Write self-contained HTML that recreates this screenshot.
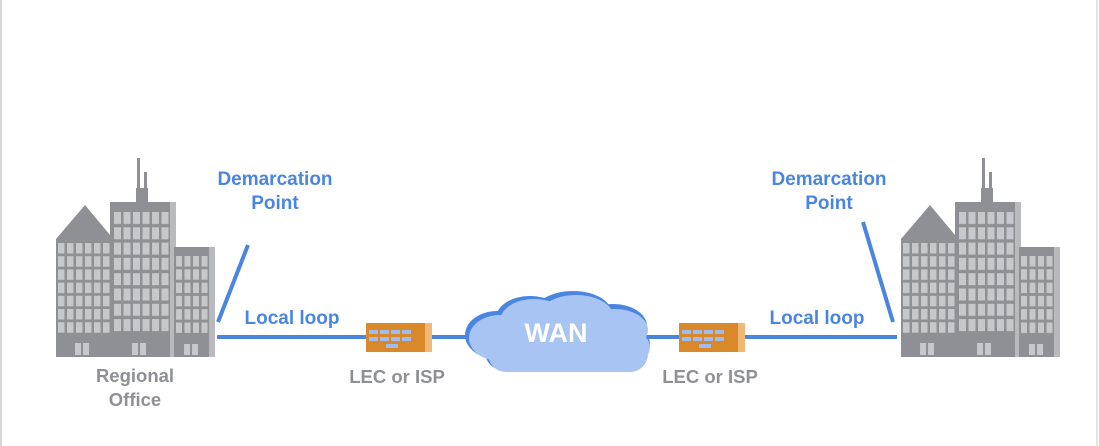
<!DOCTYPE html>
<html><head><meta charset="utf-8"><style>
html,body{margin:0;padding:0;background:#fff;width:1099px;height:446px;overflow:hidden}
.t{position:absolute;font-family:"Liberation Sans",sans-serif;font-weight:bold;font-size:19px;text-align:center;line-height:24px;white-space:nowrap}
.b{color:#4a86e0}.g{color:#8e9096}
svg{position:absolute;left:0;top:0}
</style></head><body>
<svg width="1099" height="446" viewBox="0 0 1099 446" xmlns="http://www.w3.org/2000/svg">
<defs>
<pattern id="w1" x="58" y="243" width="9" height="13.2" patternUnits="userSpaceOnUse"><rect x="0" y="0" width="6.5" height="10.5" fill="#c6c8cc"/></pattern>
<pattern id="w2" x="114" y="212" width="9.5" height="15.3" patternUnits="userSpaceOnUse"><rect x="0" y="0" width="7" height="12" fill="#c6c8cc"/></pattern>
<pattern id="w3" x="176" y="256" width="8.5" height="13.3" patternUnits="userSpaceOnUse"><rect x="0" y="0" width="6" height="10.5" fill="#c6c8cc"/></pattern>
</defs>
<g>
  <rect x="137" y="158" width="3" height="45" fill="#8e9096"/>
  <rect x="144" y="172" width="3" height="31" fill="#8e9096"/>
  <rect x="136" y="188" width="12" height="15" fill="#8e9096"/>
  <polygon points="56,239 85,205 110,235 110,357 56,357" fill="#8e9096"/>
  <rect x="58" y="243" width="52" height="92" fill="url(#w1)"/>
  <rect x="110" y="202" width="66" height="155" fill="#8e9096"/>
  <rect x="170" y="202" width="6" height="155" fill="#b8babd"/>
  <rect x="114" y="212" width="57" height="121" fill="url(#w2)"/>
  <rect x="174" y="247" width="41" height="110" fill="#8e9096"/>
  <rect x="209" y="247" width="6" height="110" fill="#b8babd"/>
  <rect x="176" y="256" width="33" height="79" fill="url(#w3)"/>
  <rect x="75" y="343" width="6" height="12" fill="#c6c8cc"/><rect x="83" y="343" width="6" height="12" fill="#c6c8cc"/>
  <rect x="132" y="343" width="6" height="12" fill="#c6c8cc"/><rect x="140" y="343" width="6" height="12" fill="#c6c8cc"/>
  <rect x="184" y="344" width="6" height="11" fill="#c6c8cc"/><rect x="192" y="344" width="6" height="11" fill="#c6c8cc"/>
</g>
<g transform="translate(845,0)">
  <rect x="137" y="158" width="3" height="45" fill="#8e9096"/>
  <rect x="144" y="172" width="3" height="31" fill="#8e9096"/>
  <rect x="136" y="188" width="12" height="15" fill="#8e9096"/>
  <polygon points="56,239 85,205 110,235 110,357 56,357" fill="#8e9096"/>
  <rect x="58" y="243" width="52" height="92" fill="url(#w1)"/>
  <rect x="110" y="202" width="66" height="155" fill="#8e9096"/>
  <rect x="170" y="202" width="6" height="155" fill="#b8babd"/>
  <rect x="114" y="212" width="57" height="121" fill="url(#w2)"/>
  <rect x="174" y="247" width="41" height="110" fill="#8e9096"/>
  <rect x="209" y="247" width="6" height="110" fill="#b8babd"/>
  <rect x="176" y="256" width="33" height="79" fill="url(#w3)"/>
  <rect x="75" y="343" width="6" height="12" fill="#c6c8cc"/><rect x="83" y="343" width="6" height="12" fill="#c6c8cc"/>
  <rect x="132" y="343" width="6" height="12" fill="#c6c8cc"/><rect x="140" y="343" width="6" height="12" fill="#c6c8cc"/>
  <rect x="184" y="344" width="6" height="11" fill="#c6c8cc"/><rect x="192" y="344" width="6" height="11" fill="#c6c8cc"/>
</g>
<rect x="0" y="0" width="2" height="446" fill="#d6d6d6"/>
<rect x="1096" y="0" width="2" height="446" fill="#e2e2e2"/>
<g stroke="#4a86e0" stroke-width="4" fill="none">
  <line x1="217" y1="337" x2="470" y2="337"/>
  <line x1="645" y1="337" x2="897" y2="337"/>
  <line x1="218" y1="322" x2="248" y2="245"/>
  <line x1="893" y1="322" x2="863" y2="222"/>
</g>
<g>
  <rect x="366" y="323" width="66" height="29" fill="#d9892a"/>
  <rect x="425" y="323" width="7" height="29" fill="#f0b775"/>
  <g fill="#9fbdf0">
    <rect x="369" y="330" width="9" height="4"/><rect x="380" y="330" width="9" height="4"/><rect x="391" y="330" width="9" height="4"/><rect x="402" y="330" width="9" height="4"/>
    <rect x="369" y="337" width="9" height="4"/><rect x="380" y="337" width="9" height="4"/><rect x="391" y="337" width="9" height="4"/><rect x="402" y="337" width="9" height="4"/>
    <rect x="386" y="344" width="12" height="4"/>
  </g>
</g>
<g transform="translate(313,0)">
  <rect x="366" y="323" width="66" height="29" fill="#d9892a"/>
  <rect x="425" y="323" width="7" height="29" fill="#f0b775"/>
  <g fill="#9fbdf0">
    <rect x="369" y="330" width="9" height="4"/><rect x="380" y="330" width="9" height="4"/><rect x="391" y="330" width="9" height="4"/><rect x="402" y="330" width="9" height="4"/>
    <rect x="369" y="337" width="9" height="4"/><rect x="380" y="337" width="9" height="4"/><rect x="391" y="337" width="9" height="4"/><rect x="402" y="337" width="9" height="4"/>
    <rect x="386" y="344" width="12" height="4"/>
  </g>
</g>
<g fill="#4a86e0">
  <ellipse cx="497" cy="335" rx="32" ry="24"/><ellipse cx="530" cy="318" rx="34" ry="22"/><ellipse cx="573" cy="312" rx="38" ry="21"/><ellipse cx="613" cy="326" rx="34" ry="22"/><ellipse cx="626" cy="344" rx="24" ry="18"/><rect x="485" y="330" width="160" height="40" rx="18"/>
</g>
<g fill="#a8c4f2">
  <ellipse cx="500" cy="338" rx="31" ry="23"/><ellipse cx="534" cy="321" rx="34" ry="22"/><ellipse cx="576" cy="316" rx="37" ry="21"/><ellipse cx="615" cy="330" rx="33" ry="21"/><ellipse cx="628" cy="347" rx="22" ry="17"/><rect x="488" y="333" width="160" height="39" rx="18"/>
</g>
</svg>
<div class="t" style="left:506px;top:316px;width:100px;font-size:27px;line-height:34px;color:#fff">WAN</div>
<div class="t b" style="left:195px;top:168px;width:160px">Demarcation<br>Point</div>
<div class="t b" style="left:749px;top:168px;width:160px">Demarcation<br>Point</div>
<div class="t b" style="left:232px;top:307px;width:120px">Local loop</div>
<div class="t b" style="left:757px;top:307px;width:120px">Local loop</div>
<div class="t g" style="left:337px;top:365px;width:120px;font-size:18.5px">LEC or ISP</div>
<div class="t g" style="left:650px;top:365px;width:120px;font-size:18.5px">LEC or ISP</div>
<div class="t g" style="left:75px;top:364px;width:120px;font-size:18.5px">Regional<br>Office</div>
</body></html>
